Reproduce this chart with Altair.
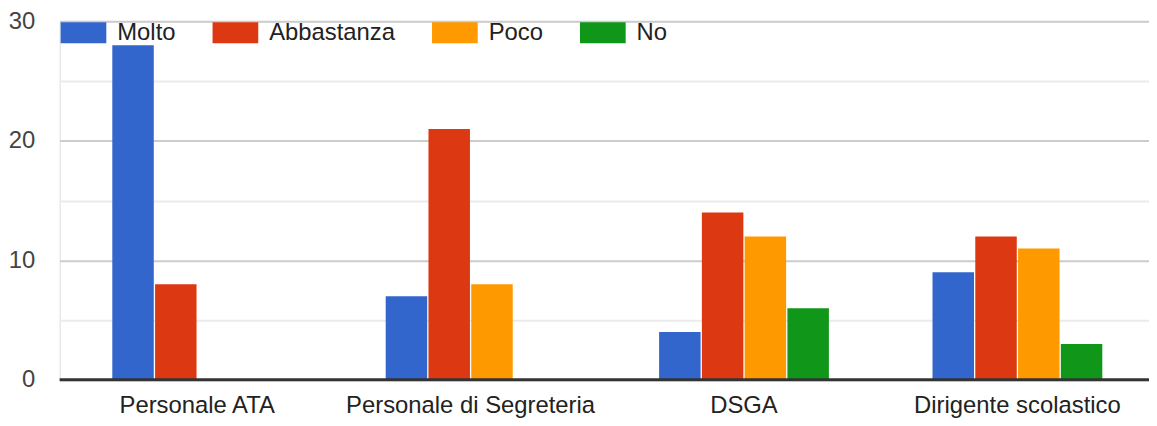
import altair as alt
import pandas as pd

categories = ["Personale ATA", "Personale di Segreteria", "DSGA", "Dirigente scolastico"]
series = ["Molto", "Abbastanza", "Poco", "No"]
colors = ["#3366cc", "#dc3912", "#ff9900", "#109618"]
molto = [28, 7, 4, 9]
abbastanza = [8, 21, 14, 12]
poco = [0, 8, 12, 11]
no = [0, 0, 6, 3]
y_ticks = [0, 5, 10, 15, 20, 25, 30]

rows = []
for s, vals in zip(series, [molto, abbastanza, poco, no]):
    for c, v in zip(categories, vals):
        rows.append({"categoria": c, "serie": s, "valore": v})
df = pd.DataFrame(rows)

FONT = "Liberation Sans"
FS = 24

y_scale = alt.Scale(domain=[0, 30], nice=False)

bars = alt.Chart(df).mark_bar().encode(
    x=alt.X("categoria:N", sort=categories, title=None,
            scale=alt.Scale(paddingInner=0.379, paddingOuter=0.1817, align=0.53),
            axis=alt.Axis(labelAngle=0, labelFontSize=FS, labelColor="#222222",
                          labelFont=FONT, ticks=False, domain=False, labelLimit=0,
                          labelPadding=14, grid=False)),
    xOffset=alt.XOffset("serie:N", sort=series, scale=alt.Scale(paddingInner=0.03)),
    y=alt.Y("valore:Q", scale=y_scale, title=None,
            axis=alt.Axis(values=y_ticks, labelFontSize=FS, labelColor="#444444",
                          labelFont=FONT, ticks=False, domain=False, labelPadding=25,
                          labelExpr="datum.value % 10 === 0 ? datum.label : ''",
                          gridWidth=2,
                          gridColor={"condition": {"test": "datum.value % 10 === 0", "value": "#cccccc"},
                                     "value": "#ebebeb"})),
    color=alt.Color("serie:N", sort=series,
                    scale=alt.Scale(domain=series, range=colors),
                    legend=alt.Legend(title=None, orient="none", direction="horizontal",
                                      legendX=1, legendY=-11.5,
                                      labelFontSize=FS, labelFont=FONT, labelColor="#222222",
                                      symbolType="M-1,-0.4565h2v0.913h-2z", symbolSize=2116,
                                      symbolStrokeWidth=0, symbolOpacity=1,
                                      labelOffset=11, columnPadding=37)),
)

zero = alt.Chart(pd.DataFrame({"v": [0]})).mark_rule(color="#333333", strokeWidth=3).encode(
    y=alt.Y("v:Q", scale=y_scale)
)

chart = alt.layer(bars, zero).properties(
    width=1097, height=361,
    autosize=alt.AutoSizeParams(type="none"),
    padding={"left": 52, "top": 12, "right": 0, "bottom": 37},
).configure_view(stroke=None).configure(background="white")

chart.save("out.html", embed_options={"renderer": "svg", "actions": False})
